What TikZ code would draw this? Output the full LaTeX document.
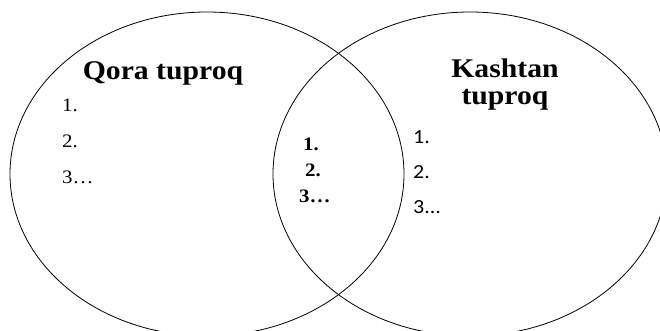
\documentclass[tikz,border=0pt]{standalone}
\usepackage{fontspec}
\newfontfamily\serifst[FakeStretch=1.1]{Liberation Serif}
\newfontfamily\sansst[FakeStretch=1.1]{Carlito}
\begin{document}
\begin{tikzpicture}[x=1pt,y=-1pt,
  ring/.style={draw=black,line width=0.8pt},
  titletext/.style={inner sep=0pt,anchor=base,font=\serifst\bfseries\fontsize{27}{30}\selectfont},
  lefttext/.style={inner sep=0pt,anchor=base west,font=\serifst\fontsize{19}{22}\selectfont},
  midtext/.style={inner sep=0pt,anchor=base west,font=\serifst\bfseries\fontsize{19}{22}\selectfont},
  righttext/.style={inner sep=0pt,anchor=base west,font=\sansst\fontsize{20}{23}\selectfont}]
\useasboundingbox (0,0) rectangle (660,331);
\fill[white] (0,0) rectangle (660,331);
\begin{scope}
\clip (0,0) rectangle (660,331);
\draw[ring] (207,174) ellipse [x radius=197, y radius=162];
\draw[ring] (470,174) ellipse [x radius=197, y radius=162];
\end{scope}
\node[titletext] (qora) at (163,80) {Qora tuproq};
\node[titletext] (kash) at (505,78) {Kashtan};
\node[titletext] (tup) at (505,105) {tuproq};
\node[lefttext] (l1) at (62,112) {1.};
\node[lefttext] (l2) at (62,147) {2.};
\node[lefttext] (l3) at (62,183) {3…};
\node[midtext] (m1) at (303,150) {1.};
\node[midtext] (m2) at (305,176) {2.};
\node[midtext] (m3) at (299,202) {3…};
\node[righttext] (r1) at (413,143) {1.};
\node[righttext] (r2) at (413,178) {2.};
\node[righttext] (r3) at (413,213) {3...};
\end{tikzpicture}
\end{document}
